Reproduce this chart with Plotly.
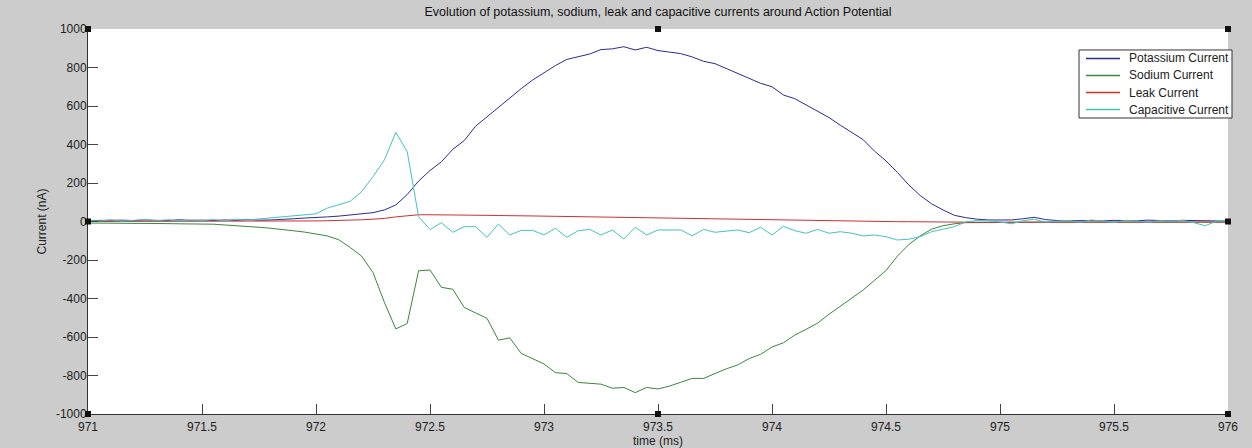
import numpy as np
import plotly.graph_objects as go

# time grid (ms), sampled every 0.05 ms
time_ms = np.round(971 + 0.05 * np.arange(101), 2)

potassium = [5, 6, 4, 7, 5, 8, 6, 5, 9, 6, 7, 5, 8, 6, 10, 7, 8,
             10, 14, 18, 20, 24, 28, 34, 40, 46, 60, 86, 140, 210, 265, 310, 375, 420,
             495, 545, 595, 645, 690, 735, 773, 810, 842, 855, 870, 893, 897, 908, 891,
             905, 888, 880, 872, 855, 832, 820, 795, 770, 747, 718, 700, 657, 638, 605,
             570, 540, 500, 462, 425, 365, 315, 255, 190, 135, 92, 60, 32, 20, 12, 8,
             7, 8, 14, 22, 10,
             5, 4, 6, 5, 3, 6, 5, 4, 7, 5, 3, 6, 5, 4, 3, 2]

sodium = [-8, -8, -9, -9, -10, -10, -11, -11, -12, -12, -13, -14, -18, -21, -26, -30, -35,
          -40, -48, -55, -64, -75, -95, -135, -180, -265, -420, -558, -530, -256, -252,
          -342, -352, -446, -475, -503, -616, -605, -685, -712, -740, -785, -790, -836,
          -842, -845, -866, -862, -889, -862, -870, -855, -835, -815, -815, -788, -765,
          -745, -712, -690, -652, -630, -590, -560, -528, -482, -440, -398, -356, -305,
          -255, -180, -120, -75, -40, -22, -12, -6,
          -5, -4, -4, -4, -4, -3, -3, -3, -3, -3, -3, -3, -3, -3, -3, -3, -3, -3, -3, -3,
          -3, -3, -3]

leak = [0, 0, 0, 0, 0, 0, 1, 1, 1, 1, 1, 1, 1, 1, 2, 2, 2,
        2, 2, 3, 3, 4, 5, 7, 9, 12, 16, 24, 31, 35, 35, 35, 34, 33, 33, 32, 31, 31, 30,
        29, 28, 27, 26, 25, 25, 24, 23, 22, 21, 20, 19, 18, 17, 16, 15, 14, 13, 12, 11,
        10, 9, 8, 8, 7, 6, 5, 4, 3, 2, 1, 0, -1, -1, -2, -2, -3, -3, -4,
        -4, -4, -4, -4, -4, -4, -4, -4, -4, -4, -3, -3, -3, -3, -3, -3, -3, -3, -3, -3,
        -3, -3, -3]

capacitive = [5, 3, 8, 2, 6, 10, 4, 9, 3, 7, 5, 10, 4, 12, 8, 14, 20,
              26, 30, 35, 40, 70, 88, 105, 155, 233, 320, 463, 363, 25, -42, -6, -56,
              -27, -27, -82, -13, -70, -46, -46, -70, -35, -82, -48, -41, -70, -44, -91,
              -30, -70, -44, -44, -44, -74, -41, -56, -50, -44, -58, -30, -70, -25, -48,
              -61, -41, -61, -53, -61, -75, -70, -79, -96, -92, -79, -53, -41, -27, -2,
              5, 3, -2, -12, 4, 12, -3, 2, 6, -4, 8, 2, -5, 6, 3, -4, 5, 2, 6, -6, -22,
              2, 3]

series_names = ["Potassium Current", "Sodium Current", "Leak Current", "Capacitive Current"]
series_values = [potassium, sodium, leak, capacitive]
series_colors = ["#2c2c90", "#3a883a", "#cc3030", "#44c2c2"]

x_ticks = [971, 971.5, 972, 972.5, 973, 973.5, 974, 974.5, 975, 975.5, 976]
x_tick_labels = ["971", "971.5", "972", "972.5", "973", "973.5", "974", "974.5", "975", "975.5", "976"]
y_ticks = [-1000, -800, -600, -400, -200, 0, 200, 400, 600, 800, 1000]
y_tick_labels = ["-1000", "-800", "-600", "-400", "-200", "0", "200", "400", "600", "800", "1000"]

FONT = "Liberation Sans, Arial, sans-serif"

fig = go.Figure()
for name, vals, col in zip(series_names, series_values, series_colors):
    fig.add_trace(go.Scatter(x=time_ms, y=vals, mode="lines", name=name,
                             line=dict(color=col, width=1), showlegend=False))

fig.update_layout(
    width=1252, height=448,
    margin=dict(l=88, r=24, t=29, b=34, autoexpand=False),
    paper_bgcolor="#cccccc",
    plot_bgcolor="#ffffff",
    font=dict(family=FONT, size=12, color="#222222"),
    title=dict(text="Evolution of potassium, sodium, leak and capacitive currents around Action Potential",
               font=dict(family=FONT, size=12.5, color="#111111"),
               x=0.5, xref="paper", xanchor="center", y=1 - 12 / 448, yanchor="middle", yref="container"),
    showlegend=False,
)

fig.update_xaxes(
    range=[971, 976], tickvals=x_ticks, ticktext=x_tick_labels,
    ticks="inside", ticklen=10, tickcolor="#444444", tickwidth=1,
    showline=True, linecolor="#333333", linewidth=1, mirror=False,
    showgrid=False, zeroline=False, ticklabelstandoff=2, automargin=False,
    tickfont=dict(family=FONT, size=12, color="#222222"),
    title=dict(text="time (ms)", font=dict(family=FONT, size=12, color="#222222"), standoff=3),
)
fig.update_yaxes(
    range=[-1000, 1000], tickvals=y_ticks, ticktext=y_tick_labels,
    ticks="inside", ticklen=10, tickcolor="#444444", tickwidth=1,
    showline=True, linecolor="#333333", linewidth=1, mirror=False,
    showgrid=False, zeroline=False, automargin=False, ticklabelstandoff=-2,
    tickfont=dict(family=FONT, size=12, color="#222222"),
    title=dict(text="Current (nA)", font=dict(family=FONT, size=12, color="#222222"), standoff=6),
)

# MATLAB-style legend box (compact rows), drawn in paper coordinates
leg_x0, leg_x1 = 0.8693, 1.0035
leg_top, leg_bottom = 0.9455, 0.7688
fig.add_shape(type="rect", xref="paper", yref="paper", x0=leg_x0, x1=leg_x1,
              y0=leg_bottom, y1=leg_top, fillcolor="#ffffff", line=dict(color="#333333", width=1))
row_step = (leg_top - leg_bottom) / len(series_names)
for k, (name, col) in enumerate(zip(series_names, series_colors)):
    yc = leg_top - row_step * (k + 0.5)
    fig.add_shape(type="line", xref="paper", yref="paper", x0=0.8754, x1=0.9053,
                  y0=yc, y1=yc, line=dict(color=col, width=1.5))
    fig.add_annotation(xref="paper", yref="paper", x=0.9114, y=yc, text=name,
                       showarrow=False, xanchor="left", yanchor="middle",
                       font=dict(family=FONT, size=12, color="#222222"))

# MATLAB-style selection handles around the axes box
handle_pos = [(0, 0), (0.5, 0), (1, 0), (0, 0.5), (1, 0.5), (0, 1), (0.5, 1), (1, 1)]
for hx, hy in handle_pos:
    fig.add_shape(type="rect", xref="paper", yref="paper", xsizemode="pixel", ysizemode="pixel",
                  xanchor=hx, yanchor=hy, x0=-3, x1=3, y0=-3, y1=3,
                  fillcolor="#111111", line=dict(width=0))

fig.write_html("out.html")
